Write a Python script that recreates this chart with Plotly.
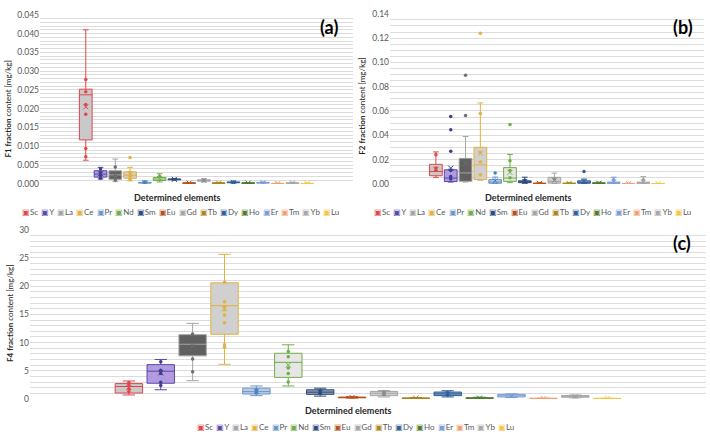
import plotly.graph_objects as go

# ---------------- data ----------------
ELEMENTS = ["Sc", "Y", "La", "Ce", "Pr", "Nd", "Sm", "Eu", "Gd", "Tb", "Dy", "Ho", "Er", "Tm", "Yb", "Lu"]

# F1 fraction (a)
F1_Q1 = [0.0117, 0.0018, 0.0012, 0.0015, 0.0002, 0.0009, 0.0011, 0.0001, 0.0007, 0.0001, 0.0003, 0.0001, 0.0002, 0.00005, 0.0001, 0.00005]
F1_MED = [0.0237, 0.0026, 0.0024, 0.0023, 0.0003, 0.0013, 0.0012, 0.0002, 0.0009, 0.0002, 0.0004, 0.0002, 0.0003, 0.0001, 0.0002, 0.0001]
F1_Q3 = [0.0252, 0.0035, 0.0035, 0.0032, 0.0004, 0.0017, 0.0013, 0.0003, 0.0011, 0.0003, 0.0005, 0.0003, 0.0004, 0.00015, 0.0003, 0.00015]
F1_LO = [0.0063, 0.0013, 0.0006, 0.0008, 0.0001, 0.0005, 0.0010, 0.0001, 0.0005, 0.0001, 0.0002, 0.0001, 0.0002, 0.0, 0.0001, 0.0]
F1_HI = [0.0410, 0.0044, 0.0066, 0.0044, 0.0007, 0.0027, 0.0014, 0.0003, 0.0013, 0.0003, 0.0006, 0.0003, 0.0005, 0.0002, 0.0004, 0.0002]
F1_MEAN = [0.0205, 0.0027, 0.0027, 0.0027, 0.0003, 0.0014, 0.0012, 0.0002, 0.0009, 0.0002, 0.0004, 0.0002, 0.0003, 0.0001, 0.0002, 0.0001]
F1_PTS = [[0.0072, 0.0094, 0.0185, 0.0211, 0.0245, 0.0278], [0.0015, 0.0022, 0.0030, 0.0040], [0.0010, 0.0020, 0.0045],
          [0.0012, 0.0020, 0.0030, 0.0070], [0.0005], [0.0020], [], [], [0.0010], [], [0.0005], [], [], [], [], []]

# F2 fraction (b)
F2_Q1 = [0.0067, 0.0019, 0.0021, 0.0035, 0.0005, 0.0021, 0.0010, 0.0002, 0.0006, 0.0002, 0.0005, 0.0003, 0.0004, 0.0001, 0.0004, 0.0001]
F2_MED = [0.0102, 0.0048, 0.0090, 0.0156, 0.0015, 0.0048, 0.0018, 0.0004, 0.0020, 0.0004, 0.0012, 0.0006, 0.0008, 0.0002, 0.0008, 0.0002]
F2_Q3 = [0.0161, 0.0116, 0.0210, 0.0301, 0.0035, 0.0134, 0.0025, 0.0006, 0.0054, 0.0006, 0.0025, 0.0009, 0.0015, 0.0004, 0.0015, 0.0003]
F2_LO = [0.0054, 0.0015, 0.0015, 0.0030, 0.0003, 0.0010, 0.0005, 0.0001, 0.0003, 0.0001, 0.0002, 0.0001, 0.0002, 0.0, 0.0002, 0.0]
F2_HI = [0.0263, 0.0120, 0.0390, 0.0666, 0.0056, 0.0242, 0.0055, 0.0010, 0.0089, 0.0008, 0.0040, 0.0014, 0.0055, 0.0005, 0.0060, 0.0004]
F2_MEAN = [0.0120, 0.0130, 0.0170, 0.0250, 0.0025, 0.0095, 0.0020, 0.0004, 0.0030, 0.0004, 0.0020, 0.0006, 0.0015, 0.0002, 0.0015, 0.0002]
F2_PTS = [[0.0110, 0.0130, 0.0240], [0.0040, 0.0060, 0.0110, 0.0269, 0.0446, 0.0554], [0.0562, 0.0895],
          [0.0075, 0.0180, 0.0258, 0.0580, 0.1239], [0.0089], [0.0050, 0.0110, 0.0190, 0.0489], [0.0030], [],
          [0.0040], [], [0.0102], [], [0.0035], [], [0.0035], []]

# F4 fraction (c)
F4_Q1 = [1.04, 2.78, 7.64, 11.47, 0.87, 3.82, 0.81, 0.20, 0.58, 0.08, 0.58, 0.10, 0.35, 0.05, 0.30, 0.04]
F4_MED = [2.20, 4.92, 9.70, 16.56, 1.30, 6.49, 1.20, 0.25, 1.00, 0.12, 0.90, 0.15, 0.55, 0.08, 0.45, 0.07]
F4_Q3 = [2.72, 6.08, 11.40, 20.60, 1.91, 8.10, 1.62, 0.32, 1.33, 0.18, 1.22, 0.20, 0.81, 0.12, 0.60, 0.10]
F4_LO = [0.70, 1.62, 3.24, 6.14, 0.58, 2.30, 0.50, 0.15, 0.35, 0.05, 0.35, 0.05, 0.25, 0.03, 0.20, 0.02]
F4_HI = [3.18, 7.00, 13.40, 25.65, 2.30, 9.60, 1.90, 0.40, 1.50, 0.25, 1.45, 0.30, 0.90, 0.15, 0.70, 0.13]
F4_MEAN = [2.00, 4.60, 9.50, 16.00, 1.35, 6.00, 1.20, 0.26, 0.95, 0.13, 0.90, 0.15, 0.55, 0.08, 0.45, 0.07]
F4_PTS = [[1.3, 1.8, 2.5, 2.9], [2.4, 2.95, 4.5, 5.1, 6.6], [4.8, 7.1, 11.5],
          [9.15, 9.6, 13.5, 14.9, 15.8, 16.4, 17.25, 20.7], [1.1, 1.6], [3.0, 4.5, 5.5, 7.5, 8.4], [1.0, 1.4], [],
          [0.8, 1.2], [], [0.7, 1.1], [], [0.5], [], [0.4], []]

PANELS = [
    dict(q1=F1_Q1, med=F1_MED, q3=F1_Q3, lo=F1_LO, hi=F1_HI, mean=F1_MEAN, pts=F1_PTS),
    dict(q1=F2_Q1, med=F2_MED, q3=F2_Q3, lo=F2_LO, hi=F2_HI, mean=F2_MEAN, pts=F2_PTS),
    dict(q1=F4_Q1, med=F4_MED, q3=F4_Q3, lo=F4_LO, hi=F4_HI, mean=F4_MEAN, pts=F4_PTS),
]

# ---------------- style ----------------
LINE_COLORS = ["#E0474C", "#5947A8", "#A5A5A5", "#E2B23E", "#6A96C9", "#70AD47", "#2E4A7D", "#B8521C",
               "#A5A5A5", "#A9861A", "#2F5F98", "#4E7A2E", "#7A9CD8", "#F0A070", "#A8A8A8", "#F2C744"]
FILL_COLORS = ["#C9C9C9", "#B49BE0", "#606060", "#D0D0D0", "#BCCBE0", "#E6E6E6", "#8E9BB5", "#D08050",
               "#D0D0D0", "#C9A84A", "#7D9CC4", "#7F9F6B", "#C7D5F0", "#F5C8A8", "#C8C8C8", "#F6DB8A"]
POINT_COLORS = ["#E0474C", "#3A3F8F", "#6E6E6E", "#E2B23E", "#4A7FBF", "#70AD47", "#2E4A7D", "#B8521C",
                "#8C8C8C", "#A9861A", "#2F5F98", "#4E7A2E", "#7A9CD8", "#F0A070", "#A0A0A0", "#F2C744"]

FONT = "Lato"
TICK_COLOR = "#595959"
GRID = "#DCDCDC"

fig = go.Figure()

axis_ids = [("x", "y"), ("x2", "y2"), ("x3", "y3")]
for p, (xa, ya) in zip(PANELS, axis_ids):
    for i, el in enumerate(ELEMENTS):
        fig.add_trace(go.Box(
            x=[el], q1=[p["q1"][i]], median=[p["med"][i]], q3=[p["q3"][i]],
            lowerfence=[p["lo"][i]], upperfence=[p["hi"][i]],
            width=0.86, whiskerwidth=0.45, boxpoints=False,
            line=dict(color=LINE_COLORS[i], width=1), fillcolor=FILL_COLORS[i],
            xaxis=xa, yaxis=ya, showlegend=False, hoverinfo="skip"))
    for i, el in enumerate(ELEMENTS):
        if p["pts"][i]:
            fig.add_trace(go.Scatter(
                x=[el] * len(p["pts"][i]), y=p["pts"][i], mode="markers",
                marker=dict(size=3.5, color=POINT_COLORS[i]),
                xaxis=xa, yaxis=ya, showlegend=False, hoverinfo="skip"))
    fig.add_trace(go.Scatter(
        x=ELEMENTS, y=p["mean"], mode="markers",
        marker=dict(symbol="x-thin", size=5, color=POINT_COLORS, line=dict(width=1, color=POINT_COLORS)),
        xaxis=xa, yaxis=ya, showlegend=False, hoverinfo="skip"))

xcommon = dict(type="category", categoryorder="array", categoryarray=ELEMENTS, range=[-3.1, 18.1],
               showticklabels=False, showgrid=False, zeroline=False, showline=False, ticks="")
ycommon = dict(showgrid=True, gridcolor=GRID, gridwidth=1, zeroline=False, showline=False, ticks="",
               tickfont=dict(family=FONT, size=8.5, color=TICK_COLOR))

fig.update_layout(
    width=710, height=444, margin=dict(l=0, r=0, t=0, b=0),
    paper_bgcolor="white", plot_bgcolor="white",
    font=dict(family=FONT, color=TICK_COLOR),
    xaxis=dict(domain=[40 / 710, 353 / 710], anchor="y", **xcommon),
    yaxis=dict(domain=[1 - 183 / 444, 1 - 10 / 444], anchor="x", range=[0, 0.045], dtick=0.005,
               tickformat=".3f", minor=dict(dtick=0.001, showgrid=True, gridcolor=GRID), **ycommon),
    xaxis2=dict(domain=[390 / 710, 704 / 710], anchor="y2", **xcommon),
    yaxis2=dict(domain=[1 - 183 / 444, 1 - 9 / 444], anchor="x2", range=[0, 0.14], dtick=0.02,
                tickformat=".2f", minor=dict(dtick=0.005, showgrid=True, gridcolor=GRID), **ycommon),
    xaxis3=dict(domain=[30 / 710, 706 / 710], anchor="y3", **xcommon),
    yaxis3=dict(domain=[1 - 403 / 444, 1 - 230 / 444], anchor="x3", range=[0, 30], dtick=5,
                minor=dict(dtick=1, showgrid=True, gridcolor=GRID), **ycommon),
)

ann = []
base = dict(xref="paper", yref="paper", showarrow=False, xanchor="center", yanchor="middle")
# panel labels
for txt, x, y in [("(a)", 329 / 710, 1 - 23 / 444), ("(b)", 683 / 710, 1 - 23 / 444), ("(c)", 682 / 710, 1 - 243 / 444)]:
    ann.append(dict(text=f"<b>{txt}</b>", x=x, y=y, font=dict(family=FONT, size=18, color="#000000"), **base))
# x-axis titles
for x, y in [(177.5 / 710, 1 - 197 / 444), (528 / 710, 1 - 197 / 444), (348 / 710, 1 - 415 / 444)]:
    ann.append(dict(text="<b>Determined elements</b>", x=x, y=y,
                    font=dict(family=FONT, size=9, color="#262626"), **base))
# y-axis titles
for lab, x, y in [("F1", 8 / 710, 1 - 106 / 444), ("F2", 362 / 710, 1 - 103 / 444), ("F4", 10 / 710, 1 - 315 / 444)]:
    ann.append(dict(text=f"<b>{lab} fraction</b> content [mg/kg]", x=x, y=y, textangle=-90,
                    font=dict(family=FONT, size=8, color="#262626"), **base))
# legends
SEP = "\u00a0\u2009"
leg = SEP.join(f'<span style="color:{c};font-size:8px">▣</span>{e}' for e, c in zip(ELEMENTS, LINE_COLORS))
for x, y in [(180 / 710, 1 - 212 / 444), (532 / 710, 1 - 212 / 444), (355 / 710, 1 - 432 / 444)]:
    ann.append(dict(text=leg, x=x, y=y, font=dict(family=FONT, size=8, color=TICK_COLOR), **base))
fig.update_layout(annotations=ann)

fig.write_html("out.html")
